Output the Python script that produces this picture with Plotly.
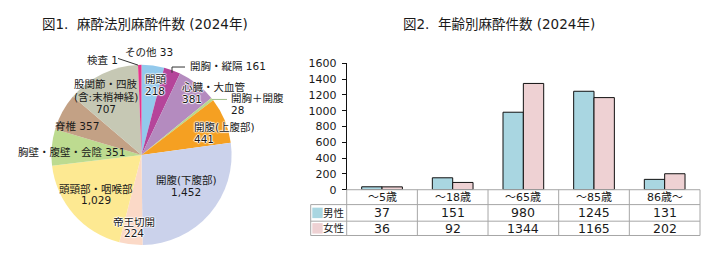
import plotly.graph_objects as go

# ---------------- data ----------------
pie_labels = ["開頭", "開胸・縦隔", "心臓・大血管", "開胸＋開腹", "開腹(上腹部)", "開腹(下腹部)",
              "帝王切開", "頭頸部・咽喉部", "胸壁・腹壁・会陰", "脊椎", "股関節・四肢(含:末梢神経)",
              "検査", "その他"]
pie_values = [218, 161, 381, 28, 441, 1452, 224, 1029, 351, 357, 707, 1, 33]
pie_colors = ["#93c9ec", "#b5449a", "#b48bbf", "#b9d88e", "#f5a022", "#cbd2eb",
              "#fbd9c7", "#fde992", "#bddb90", "#c3a185", "#c6c8b4", "#9a9a9a", "#e8338b"]

age_groups = ["～5歳", "～18歳", "～65歳", "～85歳", "86歳～"]
male = [37, 151, 980, 1245, 131]
female = [36, 92, 1344, 1165, 202]
series_names = ["男性", "女性"]
series_colors = ["#a9d6e1", "#eed1d3"]

title1 = "図1.  麻酔法別麻酔件数 (2024年)"
title2 = "図2.  年齢別麻酔件数 (2024年)"

# ---------------- layout helpers ----------------
W, H = 714, 279
FONT = "DejaVu Sans, Noto Sans CJK JP"
INK = "#1a1a1a"


def px(x):
    return x / W


def py(y):
    return 1 - y / H


def text_at(fig, x, y, txt, size, anchor="center", font_extra=None):
    f = dict(family=FONT, size=size, color=INK)
    if font_extra:
        f.update(font_extra)
    fig.add_annotation(x=px(x), y=py(y), xref="paper", yref="paper", text=txt, showarrow=False,
                       xanchor=anchor, yanchor="middle", font=f)


fig = go.Figure()

# ---------------- pie ----------------
fig.add_trace(go.Pie(
    labels=pie_labels, values=pie_values, sort=False, direction="clockwise", rotation=0,
    marker=dict(colors=pie_colors, line=dict(width=0)),
    textinfo="none", showlegend=False,
    domain=dict(x=[px(46), px(237)], y=[py(250.7), py(61.7)]),
))

# label placement: (index, display lines, x px, first-line y px, line gap, anchor, halo)
label_layout = [
    (0, ["開頭", None], 143, 77, 12, "left", True),
    (1, ["開胸・縦隔 {v}"], 188, 63, 0, "left", False),
    (2, ["心臓・大血管", None], 180, 85, 13, "left", True),
    (3, ["開胸＋開腹", None], 229, 97, 12, "left", False),
    (4, ["開腹(上腹部)", None], 192, 127, 12, "left", True),
    (5, ["開腹(下腹部)", None], 186, 183, 12, "center", False),
    (6, ["帝王切開", None], 134, 227, 11, "center", True),
    (7, ["頭頸部・咽喉部", None], 96, 192, 11, "center", False),
    (8, ["胸壁・腹壁・会陰 {v}"], 16, 153, 0, "left", False),
    (9, ["脊椎 {v}"], 53, 126, 0, "left", False),
    (10, ["股関節・四肢", "(含:末梢神経)", None], 106, 82, 13, "center", False),
    (11, ["検査 {v}"], 85, 57, 0, "left", False),
    (12, ["その他 {v}"], 123, 48, 0, "left", False),
]
HALO = {"shadow": "1px 0 1px #fff, -1px 0 1px #fff, 0 1px 1px #fff, 0 -1px 1px #fff"}
for idx, lines, x, y0, gap, anchor, halo in label_layout:
    val = f"{pie_values[idx]:,}"
    for k, ln in enumerate(lines):
        txt = val if ln is None else ln.format(v=val)
        text_at(fig, x, y0 + k * gap, txt, 10.5, anchor, HALO if halo else None)

# leader lines
leaders = [
    ((118, 55), (138, 62), "#333333"),
    ((172, 64), (185, 64), "#333333"),
    ((172, 64), (172, 70), "#333333"),
    ((212, 98), (227, 98), "#9fbf8a"),
]
for (xa, ya), (xb, yb), c in leaders:
    fig.add_shape(type="line", xref="paper", yref="paper", x0=px(xa), y0=py(ya),
                  x1=px(xb), y1=py(yb), line=dict(color=c, width=1))

# ---------------- bars ----------------
X0, X1 = 346.7, 700.0
Y0, Y1 = 192.7, 60.0
for name, vals, col in zip(series_names, [male, female], series_colors):
    fig.add_trace(go.Bar(x=age_groups, y=vals, name=name,
                         marker=dict(color=col, line=dict(color="#111", width=1)),
                         showlegend=False, xaxis="x", yaxis="y"))

fig.update_layout(
    width=W, height=H, margin=dict(l=0, r=0, t=0, b=0),
    paper_bgcolor="white", plot_bgcolor="white",
    barmode="group", bargap=0.424, bargroupgap=0,
    xaxis=dict(domain=[px(X0), px(X1)], range=[-0.5, len(age_groups) - 0.5], showticklabels=False,
               showline=False, showgrid=False, zeroline=False, ticks="", fixedrange=True),
    yaxis=dict(domain=[py(Y0), py(Y1)], range=[0, 1600], dtick=200, ticks="outside", ticklen=4,
               tickcolor="#111", showline=True, linecolor="#111", linewidth=1, showgrid=False,
               zeroline=False, tickfont=dict(family=FONT, size=11, color=INK),
               ticklabelstandoff=3),
    font=dict(family=FONT),
)

# ---------------- data table under bars ----------------
GRID = "#a6a6a6"
row_y = [Y0, 208.3, 225.7, 240.7]
LEFT = 310.7
n = len(age_groups)
colw = (X1 - X0) / n
bounds = [X0 + k * colw for k in range(n + 1)]


def gline(xa, ya, xb, yb):
    fig.add_shape(type="line", xref="paper", yref="paper", x0=px(xa), x1=px(xb), y0=py(ya), y1=py(yb),
                  line=dict(color=GRID, width=1))


gline(X0, row_y[0], X1, row_y[0])
for yy in row_y[1:]:
    gline(LEFT, yy, X1, yy)
for bx in bounds:
    gline(bx, row_y[0], bx, row_y[-1])
gline(LEFT, row_y[1], LEFT, row_y[-1])

# header row (categories)
for i, cat in enumerate(age_groups):
    cx = (bounds[i] + bounds[i + 1]) / 2
    text_at(fig, cx, (row_y[0] + row_y[1]) / 2, cat, 11)

# series rows
for r, (name, vals, col) in enumerate(zip(series_names, [male, female], series_colors)):
    ya, yb = row_y[r + 1], row_y[r + 2]
    ym = (ya + yb) / 2
    fig.add_shape(type="rect", xref="paper", yref="paper", x0=px(LEFT + 1.6), x1=px(LEFT + 12),
                  y0=py(ym - 5.5), y1=py(ym + 5.5), line=dict(width=0), fillcolor=col)
    text_at(fig, LEFT + 23, ym, name, 10.5)
    for i, v in enumerate(vals):
        cx = (bounds[i] + bounds[i + 1]) / 2
        text_at(fig, cx, ym, str(v), 12.5)

# ---------------- titles ----------------
text_at(fig, 145, 19, title1, 13.5)
text_at(fig, 499, 19, title2, 13.5)

fig.write_html("out.html")
